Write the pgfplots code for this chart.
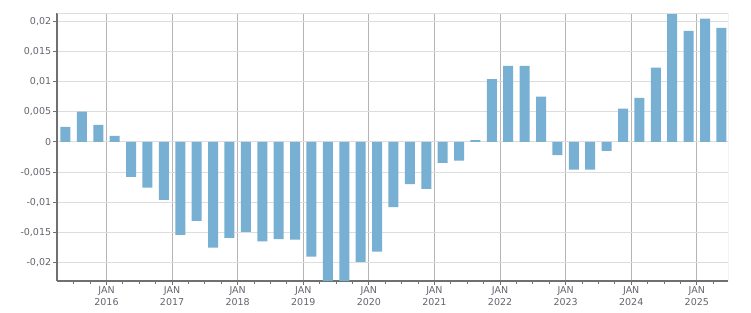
\documentclass[border=0pt]{standalone}
\usepackage{fontspec}
\setmainfont{DejaVu Sans}
\usepackage{pgfplots}
\pgfplotsset{compat=1.18}
\usepackage{pgfplotstable}
\definecolor{barblue}{RGB}{120,176,211}
\definecolor{axisgray}{RGB}{112,112,112}
\definecolor{vgrid}{RGB}{180,180,180}
\definecolor{hgrid}{RGB}{221,221,221}
\definecolor{labgray}{RGB}{100,100,110}
\pgfplotstableread{
x y
2015.375 0.0025
2015.625 0.0050
2015.875 0.0028
2016.125 0.0010
2016.375 -0.0058
2016.625 -0.0076
2016.875 -0.0096
2017.125 -0.0154
2017.375 -0.0131
2017.625 -0.0175
2017.875 -0.0159
2018.125 -0.0149
2018.375 -0.0165
2018.625 -0.0161
2018.875 -0.0162
2019.125 -0.0190
2019.375 -0.0245
2019.625 -0.0240
2019.875 -0.0199
2020.125 -0.0182
2020.375 -0.0108
2020.625 -0.0070
2020.875 -0.0078
2021.125 -0.0035
2021.375 -0.0031
2021.625 0.0003
2021.875 0.0104
2022.125 0.0126
2022.375 0.0126
2022.625 0.0075
2022.875 -0.0022
2023.125 -0.0046
2023.375 -0.0046
2023.625 -0.0015
2023.875 0.0055
2024.125 0.0073
2024.375 0.0123
2024.625 0.0212
2024.875 0.0184
2025.125 0.0204
2025.375 0.0189
}\datatable
\begin{document}
\begin{tikzpicture}
\begin{axis}[
  name=ax,
  scale only axis,
  width=671bp, height=267.4bp,
  xmin=2015.25, xmax=2025.48,
  ymin=-0.023, ymax=0.0213,
  scaled ticks=false,
  axis x line*=bottom, axis y line*=left,
  axis line style={axisgray, line width=1.8bp},
  xtick={2016,2017,2018,2019,2020,2021,2022,2023,2024,2025},
  xticklabels={{JAN\\2016},{JAN\\2017},{JAN\\2018},{JAN\\2019},{JAN\\2020},{JAN\\2021},{JAN\\2022},{JAN\\2023},{JAN\\2024},{JAN\\2025}},
  minor xtick={2015.5,2015.75,2016.25,2016.5,2016.75,2017.25,2017.5,2017.75,2018.25,2018.5,2018.75,2019.25,2019.5,2019.75,2020.25,2020.5,2020.75,2021.25,2021.5,2021.75,2022.25,2022.5,2022.75,2023.25,2023.5,2023.75,2024.25,2024.5,2024.75,2025.25},
  ytick={-0.02,-0.015,-0.01,-0.005,0,0.005,0.01,0.015,0.02},
  yticklabels={{-0,02},{-0,015},{-0,01},{-0,005},{0},{0,005},{0,01},{0,015},{0,02}},
  tick align=outside,
  major tick length=4bp, minor tick length=3bp,
  tick style={axisgray, line width=0.8bp},
  xmajorgrids, ymajorgrids,
  major x grid style={vgrid, line width=1bp},
  major y grid style={hgrid, line width=1bp},
  xticklabel style={align=center, font=\fontsize{9.5bp}{11.5bp}\selectfont, text=labgray, inner sep=1bp, yshift=-1bp},
  yticklabel style={font=\fontsize{9.5bp}{11.5bp}\selectfont, text=labgray, inner sep=1bp, xshift=-1bp},
  ybar, bar width=10bp,
]
\addplot[fill=barblue, draw=none] table[x=x, y=y] {\datatable};
\draw[hgrid, line width=1bp] (rel axis cs:0,1) -- (rel axis cs:1,1) -- (rel axis cs:1,0);
\end{axis}
\path ([shift={(-57.3bp,-32.3bp)}]ax.south west) rectangle ([shift={(22.7bp,13.3bp)}]ax.north east);
\end{tikzpicture}
\end{document}
